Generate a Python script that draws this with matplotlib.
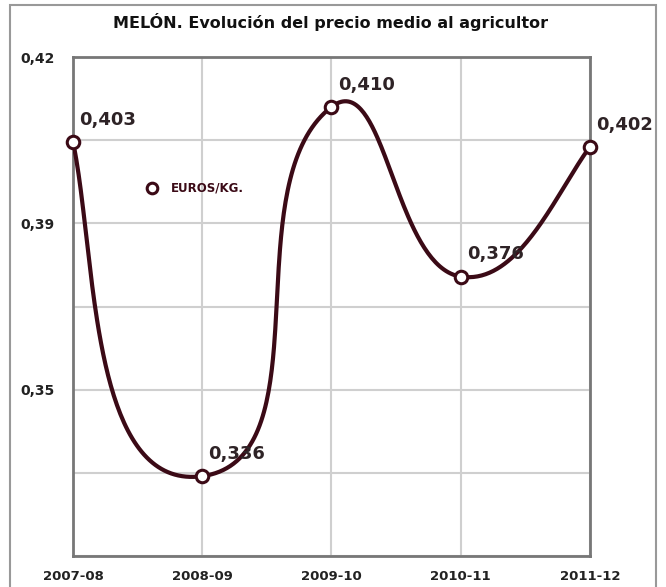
import matplotlib.pyplot as plt
import numpy as np
from matplotlib.patches import Rectangle

plt.rcParams["font.family"] = ["DejaVu Sans"]

campaigns = ["2007-08", "2008-09", "2009-10", "2010-11", "2011-12"]
prices = [0.403, 0.336, 0.410, 0.376, 0.402]
price_labels = ["0,403", "0,336", "0,410", "0,376", "0,402"]
y_ticks = [0.42, 0.40333, 0.38667, 0.37, 0.35333, 0.33667, 0.32]
y_tick_labels = ["0,42", "", "0,39", "", "0,35", "", ""]

LINE = "#3b0a16"
TEXT = "#2e2326"


def unit(v):
    return v / np.hypot(*v)


def smooth(ax, xs, ys, k=0.32, n=80):
    # Excel-like smoothed line, built in pixel space with cubic Bezier pieces
    p = ax.transData.transform(np.column_stack([xs, ys]))
    m = len(p)
    fwd = [None] * m
    back = [None] * m
    for i in range(1, m - 1):
        d = unit(p[i + 1] - p[i - 1])
        fwd[i] = p[i] + d * k * np.hypot(*(p[i + 1] - p[i]))
        back[i] = p[i] - d * k * np.hypot(*(p[i] - p[i - 1]))
    # end points: direction between the chord and the neighbouring handle
    d = unit(unit(back[1] - p[0]) + unit(p[1] - p[0]))
    fwd[0] = p[0] + d * k * np.hypot(*(p[1] - p[0]))
    d = unit(unit(fwd[m - 2] - p[m - 1]) + unit(p[m - 2] - p[m - 1]))
    back[m - 1] = p[m - 1] + d * k * np.hypot(*(p[m - 1] - p[m - 2]))
    t = np.linspace(0, 1, n)[:, None]
    out = []
    for i in range(m - 1):
        b0, b1, b2, b3 = p[i], fwd[i], back[i + 1], p[i + 1]
        out.append((1 - t) ** 3 * b0 + 3 * (1 - t) ** 2 * t * b1
                   + 3 * (1 - t) * t ** 2 * b2 + t ** 3 * b3)
    out = ax.transData.inverted().transform(np.vstack(out))
    return out[:, 0], out[:, 1]


fig = plt.figure(figsize=(6.66, 5.87), dpi=100)
ax = fig.add_axes([0.1096, 0.0528, 0.776, 0.850])

x = np.arange(len(campaigns))
ax.set_xlim(0, len(campaigns) - 1)
ax.set_ylim(0.32, 0.42)

sx, sy = smooth(ax, x, prices)
ax.plot(sx, sy, color=LINE, linewidth=3, zorder=3)
ax.plot(x, prices, linestyle="none", marker="o", markersize=9,
        markerfacecolor="white", markeredgecolor=LINE, markeredgewidth=2.2,
        zorder=4, label="EUROS/KG.", clip_on=False)

for xi, yi, lab in zip(x, prices, price_labels):
    ax.annotate(lab, (xi, yi), xytext=(25, 16), textcoords="offset points",
                ha="center", va="center", fontsize=13, fontweight="bold",
                color=TEXT, zorder=5)

ax.set_xticks(x)
ax.set_xticklabels(campaigns, fontsize=9.5, fontweight="bold", color="#222222")
ax.set_yticks(y_ticks)
ax.set_yticklabels(y_tick_labels, fontsize=10, fontweight="bold", color="#222222")
ax.tick_params(length=0)
ax.tick_params(axis="x", pad=10)
ax.tick_params(axis="y", pad=13)
ax.grid(True, color="#cfcfcf", linewidth=1.5)
for s in ax.spines.values():
    s.set_color("#777777")
    s.set_linewidth(2)

leg = ax.legend(loc="center left", bbox_to_anchor=(0.11, 0.737), frameon=False,
                handletextpad=0.6, markerscale=0.85,
                prop={"size": 8.5, "weight": "bold"})
for t in leg.get_texts():
    t.set_color(LINE)

fig.text(0.497, 0.962, "MELÓN. Evolución del precio medio al agricultor",
         ha="center", va="center", fontsize=11.5, fontweight="bold", color="#111111")

fig.patches.append(Rectangle((10 / 666, -0.05), 646 / 666, 1 - 5 / 587 + 0.05,
                             transform=fig.transFigure, fill=False,
                             edgecolor="#999999", linewidth=1.5))

fig.savefig("out.png", dpi=100)
